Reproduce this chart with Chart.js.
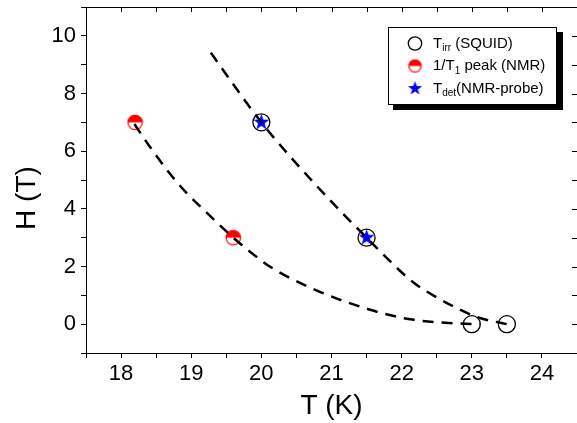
<!DOCTYPE html>
<html>
<head>
<meta charset="utf-8">
<script src="https://cdn.jsdelivr.net/npm/chart.js@4/dist/chart.umd.min.js"></script>
<style>
  html, body { margin: 0; padding: 0; background: #fff; }
</style>
</head>
<body>
<canvas id="myChart" width="577" height="423"></canvas>
<script>
// datos
var squidT = [20, 21.5, 23, 23.5];
var squidH = [7, 3, 0, 0];
var nmrT = [18.2, 19.6];
var nmrH = [7, 3];
var probeT = [20, 21.5];
var probeH = [7, 3];

// curvas guia (discontinuas)
var fitAT = [19.28, 20, 20.75, 21.5, 22.16, 22.45, 22.76, 23.08, 23.5];
var fitAH = [9.41, 7, 4.9, 3, 1.46, 1.0, 0.59, 0.24, 0];
var fitBT = [18.19, 18.4, 18.66, 18.9, 19.19, 19.6, 19.86, 20.12, 20.76, 21.55, 22.12, 22.76, 23.12];
var fitBH = [6.94, 6.19, 5.33, 4.64, 3.94, 3.0, 2.47, 2.0, 1.2, 0.5, 0.17, 0.03, 0];

var xTicks = [18, 19, 20, 21, 22, 23, 24];
var yTicks = [0, 2, 4, 6, 8, 10];

var FONT = 'Arial, "Liberation Sans", sans-serif';

function pts(xs, ys) {
  return xs.map(function (x, i) { return { x: x, y: ys[i] }; });
}

// marcador semilleno rojo
function makeHalf(r) {
  var s = Math.ceil(r * 2 + 4);
  var c = document.createElement('canvas');
  c.width = s; c.height = s;
  var g = c.getContext('2d');
  var m = s / 2;
  g.fillStyle = '#fff';
  g.beginPath(); g.arc(m, m, r, 0, Math.PI * 2); g.fill();
  g.fillStyle = '#ff0000';
  g.beginPath(); g.arc(m, m, r, Math.PI, Math.PI * 2); g.closePath(); g.fill();
  g.strokeStyle = '#ff0000'; g.lineWidth = 1.2;
  g.beginPath(); g.arc(m, m, r, 0, Math.PI * 2); g.stroke();
  return c;
}

// estrella azul de 5 puntas
function makeStar(r) {
  var s = Math.ceil(r * 2 + 4);
  var c = document.createElement('canvas');
  c.width = s; c.height = s;
  var g = c.getContext('2d');
  var m = s / 2;
  g.fillStyle = '#0000ff';
  g.beginPath();
  for (var i = 0; i < 10; i++) {
    var rr = i % 2 === 0 ? r : r * 0.4;
    var a = -Math.PI / 2 + i * Math.PI / 5;
    g.lineTo(m + rr * Math.cos(a), m + rr * Math.sin(a));
  }
  g.closePath(); g.fill();
  return c;
}

var halfBig = makeHalf(7.2), halfSmall = makeHalf(6.2);
var starBig = makeStar(8.5), starSmall = makeStar(7.5);

// leyenda con subindices y sombra, ejes espejo y titulo vertical
var framePlugin = {
  id: 'frame',
  afterDraw: function (chart) {
    var ctx = chart.ctx, a = chart.chartArea;
    var xs = chart.scales.x, ys = chart.scales.y;
    ctx.save();
    ctx.strokeStyle = '#000'; ctx.lineWidth = 1;
    ctx.beginPath();
    ctx.moveTo(a.left, a.top + 0.5); ctx.lineTo(a.right, a.top + 0.5);
    for (var v = 17.5; v <= 24.5; v += 0.5) {
      var px = Math.round(xs.getPixelForValue(v)) + 0.5;
      ctx.moveTo(px, a.top); ctx.lineTo(px, a.top + 5);
    }
    for (var h = -1; h <= 11; h += 1) {
      var py = Math.round(ys.getPixelForValue(h)) + 0.5;
      ctx.moveTo(a.right, py); ctx.lineTo(a.right - 5, py);
    }
    ctx.stroke();

    // titulo del eje y
    ctx.save();
    ctx.translate(27, 198);
    ctx.rotate(-Math.PI / 2);
    ctx.fillStyle = '#000';
    ctx.font = '28px ' + FONT;
    ctx.textAlign = 'center';
    ctx.textBaseline = 'middle';
    ctx.fillText('H (T)', 0, 0);
    ctx.restore();

    // leyenda
    ctx.fillStyle = '#000';
    ctx.fillRect(393, 32, 170, 78);
    ctx.fillStyle = '#fff';
    ctx.fillRect(388, 27, 169, 78);
    ctx.strokeRect(388.5, 27.5, 168, 77);

    ctx.lineWidth = 1.3;
    ctx.beginPath(); ctx.arc(415, 43.5, 6.7, 0, Math.PI * 2); ctx.stroke();
    ctx.drawImage(halfSmall, 415 - halfSmall.width / 2, 66 - halfSmall.height / 2);
    ctx.drawImage(starSmall, 415 - starSmall.width / 2, 88.5 - starSmall.height / 2);

    var rows = [
      [['T', 0], ['irr', 1], [' (SQUID)', 0]],
      [['1/T', 0], ['1', 1], [' peak (NMR)', 0]],
      [['T', 0], ['det', 1], ['(NMR-probe)', 0]]
    ];
    var rowY = [43.5, 66, 88.5];
    ctx.fillStyle = '#000';
    ctx.textBaseline = 'middle';
    rows.forEach(function (parts, k) {
      var x = 433;
      parts.forEach(function (p) {
        ctx.font = (p[1] ? '10px ' : '15px ') + FONT;
        ctx.fillText(p[0], x, p[1] ? rowY[k] + 5 : rowY[k]);
        x += ctx.measureText(p[0]).width;
      });
    });
    ctx.restore();
  }
};

var ctx = document.getElementById('myChart').getContext('2d');
var myChart = new Chart(ctx, {
  type: 'scatter',
  data: {
    datasets: [
      { label: 'fitA', data: pts(fitAT, fitAH), showLine: true, pointRadius: 0,
        borderColor: '#000', borderWidth: 2.5, borderDash: [11, 8],
        cubicInterpolationMode: 'monotone', order: 0 },
      { label: 'fitB', data: pts(fitBT, fitBH), showLine: true, pointRadius: 0,
        borderColor: '#000', borderWidth: 2.5, borderDash: [11, 8],
        cubicInterpolationMode: 'monotone', order: 0 },
      { label: 'Tdet (NMR-probe)', data: pts(probeT, probeH), pointStyle: starBig, order: 1 },
      { label: '1/T1 peak (NMR)', data: pts(nmrT, nmrH), pointStyle: halfBig, order: 2 },
      { label: 'Tirr (SQUID)', data: pts(squidT, squidH), pointStyle: 'circle', pointRadius: 8.5,
        borderColor: '#000', borderWidth: 1.3, backgroundColor: 'rgba(0,0,0,0)', order: 3 }
    ]
  },
  options: {
    responsive: false,
    animation: false,
    layout: { autoPadding: false, padding: { top: 7, right: 0, left: 0, bottom: 0 } },
    plugins: { legend: { display: false }, tooltip: { enabled: false } },
    scales: {
      x: {
        min: 17.5, max: 24.5,
        afterFit: function (s) { s.height = 70; s.paddingLeft = 0; s.paddingRight = 0; },
        ticks: {
          stepSize: 0.5, autoSkip: false, maxRotation: 0, padding: 3,
          color: '#000', font: { family: FONT, size: 22 },
          callback: function (v) { return xTicks.indexOf(v) >= 0 ? String(v) : ''; }
        },
        grid: { drawOnChartArea: false, tickLength: 5, tickColor: '#000' },
        border: { color: '#000', width: 1 },
        title: { display: true, text: 'T (K)', color: '#000', font: { family: FONT, size: 28 }, padding: 0 }
      },
      y: {
        min: -1, max: 11,
        afterFit: function (s) { s.width = 86; s.paddingTop = 0; s.paddingBottom = 0; },
        ticks: {
          stepSize: 1, autoSkip: false, padding: 5,
          color: '#000', font: { family: FONT, size: 22 },
          callback: function (v) { return yTicks.indexOf(v) >= 0 ? String(v) : ''; }
        },
        grid: { drawOnChartArea: false, tickLength: 5, tickColor: '#000' },
        border: { color: '#000', width: 1 }
      }
    }
  },
  plugins: [framePlugin]
});
</script>
</body>
</html>
